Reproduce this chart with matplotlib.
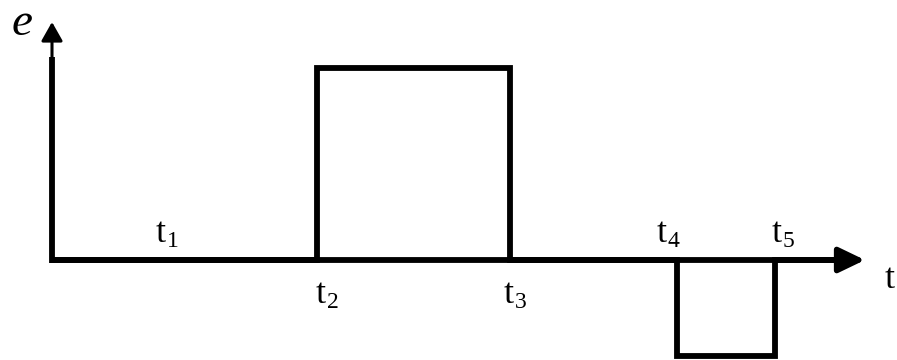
import matplotlib
matplotlib.use("Agg")
import matplotlib.pyplot as plt

# time instants (horizontal units) and signal levels
t_names = ["1", "2", "3", "4", "5"]
t_values = [110, 265, 458, 625, 723]
t_end = 813
e_high = 1.0
e_low = -0.5

t2, t3, t4, t5 = t_values[1:]
wave_t = [0, t2, t2, t3, t3, t4, t4, t5, t5, t_end - 20]
wave_e = [0, 0, e_high, e_high, 0, 0, e_low, e_low, 0, 0]

PX = 192.0  # pixels per unit of e
fig = plt.figure(figsize=(8.97, 3.6), dpi=100)
ax = fig.add_axes([0, 0, 1, 1])
ax.set_xlim(-52, 845)
ax.set_ylim(-100 / PX, 260 / PX)
ax.axis("off")

# horizontal axis line + arrow
ax.plot([0, t_end - 20], [0, 0], color="black", lw=4.2, solid_capstyle="butt")
ax.annotate("", xy=(t_end, 0), xytext=(t_end - 40, 0),
            arrowprops=dict(arrowstyle="-|>,head_length=1.58,head_width=0.76", lw=4, color="black",
                            shrinkA=0, shrinkB=0, mutation_scale=10))

ax.plot(wave_t, wave_e, color="black", lw=4.2, solid_joinstyle="miter", solid_capstyle="butt")

# vertical axis: thick shaft, thin neck, arrow head
ax.plot([0, 0], [-3 / PX, 203 / PX], color="black", lw=4.2, solid_capstyle="butt")
ax.annotate("", xy=(0, 238 / PX), xytext=(0, 200 / PX),
            arrowprops=dict(arrowstyle="-|>,head_length=1.15,head_width=0.65", lw=2.2, color="black",
                            shrinkA=0, shrinkB=0, mutation_scale=10))

serif = ["Liberation Serif", "DejaVu Serif"]
ax.text(-30, (260 - 35) / PX, "e", fontsize=34, style="italic", family=serif,
        ha="center", va="baseline")
ax.text(838, (260 - 288) / PX, "t", fontsize=26, family=serif, ha="center", va="baseline")

# label positions: (x of 't' centre in px-from-origin, baseline pixel row)
label_pos = [(161 - 52, 242), (321 - 52, 303), (509 - 52, 303), (662 - 52, 242), (777 - 52, 242)]
for name, (x, base) in zip(t_names, label_pos):
    ax.text(x, (260 - base) / PX, "t", fontsize=26, family=serif, ha="center", va="baseline")
    ax.text(x + 6, (260 - base - 5) / PX, name, fontsize=17, family=serif, ha="left", va="baseline")

fig.savefig("out.png", dpi=100)
